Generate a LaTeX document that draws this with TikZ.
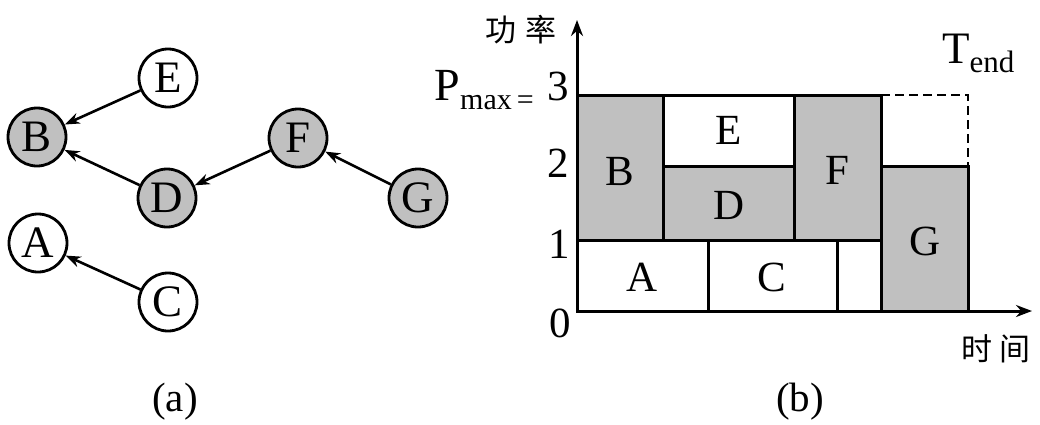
\documentclass[tikz,border=0pt]{standalone}
\usepackage{fontspec}
\setmainfont{Liberation Serif}
\newfontfamily\cjk{Noto Sans CJK SC}
\usetikzlibrary{arrows.meta}
\definecolor{boxgray}{RGB}{192,192,192}
\tikzset{
  task/.style={circle,draw=black,line width=2.8pt,minimum size=58pt,inner sep=0pt,font=\fontsize{45}{45}\selectfont},
  gtask/.style={task,fill=boxgray},
  wtask/.style={task,fill=white},
  dep/.style={line width=2.6pt,-{Stealth[length=15pt,width=11pt]}},
  blk/.style={draw=black,line width=3pt},
  gblk/.style={blk,fill=boxgray},
  lbl/.style={font=\fontsize{43}{43}\selectfont,inner sep=0pt},
  ticklbl/.style={font=\fontsize{43}{43}\selectfont,inner sep=0pt},
  axisline/.style={line width=3pt,-{Stealth[length=16pt,width=12pt]}},
  cjklbl/.style={font=\cjk\fontsize{31}{31}\selectfont,inner sep=0pt},
  captext/.style={font=\fontsize{41}{41}\selectfont,inner sep=0pt}
}
\begin{document}
\begin{tikzpicture}[x=1pt,y=-1pt]
\useasboundingbox (0,0) rectangle (1040,424);
% (a) graph
\node[wtask] (E) at (168,78) {E};
\node[gtask] (B) at (37,137) {B};
\node[gtask] (F) at (298,138) {F};
\node[gtask] (D) at (167,198) {D};
\node[gtask] (G) at (418,198) {G};
\node[wtask] (A) at (38,243) {A};
\node[wtask] (C) at (168,302) {C};
\draw[dep] (E) -- (B);
\draw[dep] (D) -- (B);
\draw[dep] (F) -- (D);
\draw[dep] (G) -- (F);
\draw[dep] (C) -- (A);
\node[captext] (capa) at (175,402) {(a)};
% (b) chart
\coordinate (O) at (577,311);
\coordinate (ytop) at (577,20);
\coordinate (xend) at (1032,311);
% blocks
\draw[blk,fill=white] (577,240) rectangle (708,311);
\draw[blk,fill=white] (708,240) rectangle (837,311);
\draw[blk,fill=white] (837,240) rectangle (881,311);
\draw[gblk] (881,166) rectangle (968,311);
\draw[gblk] (577,95) rectangle (663,240);
\draw[gblk] (663,166) rectangle (794,240);
\draw[blk,fill=white] (663,95) rectangle (794,166);
\draw[gblk] (794,95) rectangle (881,240);
\draw[line width=2.8pt,dash pattern=on 9pt off 5pt] (881,95) -- (968,95) -- (968,166);
% axes
\draw[axisline] (O) -- (ytop);
\draw[axisline] (O) -- (xend);
% block labels
\node[lbl] (lB) at (620,171) {B};
\node[lbl] (lE) at (729,130) {E};
\node[lbl] (lD) at (729,205) {D};
\node[lbl] (lF) at (837,170) {F};
\node[lbl] (lG) at (925,241) {G};
\node[lbl] (lA) at (642,277) {A};
\node[lbl] (lC) at (772,277) {C};
% ticks
\node[ticklbl,anchor=base] (t3) at (558,100) {3};
\node[ticklbl,anchor=base] (t2) at (558,177) {2};
\node[ticklbl,anchor=base] (t1) at (559,258) {1};
\node[ticklbl,anchor=base] (t0) at (560,337) {0};
\node[inner sep=0pt,anchor=base east] (pmax) at (534,100) {{\fontsize{46}{46}\selectfont P}\raisebox{-9pt}{\fontsize{30}{30}\selectfont max\,=}};
\node[inner sep=0pt,anchor=base west] (tend) at (942,63) {{\fontsize{45}{45}\selectfont T}\raisebox{-9pt}{\fontsize{31}{31}\selectfont end}};
\node[cjklbl] (ylab) at (521,30) {功\hspace{0.3em}率};
\node[cjklbl] (xlab) at (996,349) {时\hspace{0.25em}间};
\node[captext] (capb) at (800,402) {(b)};
\end{tikzpicture}
\end{document}
